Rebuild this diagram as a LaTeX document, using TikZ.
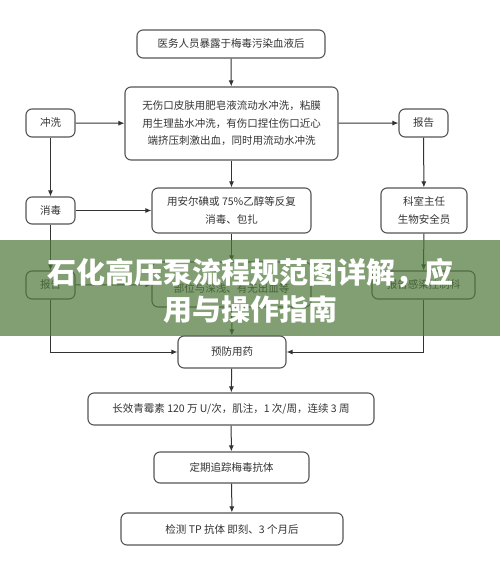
\documentclass[tikz,border=0pt]{standalone}
\usepackage{fontspec}
\newfontfamily\cjk{Noto Sans CJK SC}
\usetikzlibrary{positioning, arrows.meta}
\definecolor{boxline}{RGB}{85,85,85}
\definecolor{txtgray}{RGB}{51,51,51}
\definecolor{bandgreen}{RGB}{76,119,55}

\begin{document}
\begin{tikzpicture}[x=1pt, y=-1pt, >={Latex[length=6pt,width=5pt]},
    box/.style={draw=boxline, line width=1.1pt, rectangle, rounded corners=6pt,
        align=center, text=txtgray, inner sep=2pt,
        font=\cjk\fontsize{10.5}{17.5}\selectfont},
    link/.style={->, line width=1pt, draw=txtgray}]
    \useasboundingbox (0,0) rectangle (500,577);
    \fill[white] (0,0) rectangle (500,577);

    \node[box, minimum width=188pt, minimum height=28pt] (expo) at (231,44) {医务人员暴露于梅毒污染血液后};
    \node[box, minimum width=213pt, minimum height=73pt] (wash) at (231.5,123.5) {无伤口皮肤用肥皂液流动水冲洗，粘膜\\用生理盐水冲洗，有伤口捏住伤口近心\\端挤压刺激出血，同时用流动水冲洗};
    \node[box, minimum width=49pt, minimum height=28pt] (rinse) at (50.5,123) {冲洗};
    \node[box, minimum width=49pt, minimum height=28pt] (report) at (423.5,123) {报告};
    \node[box, minimum width=49pt, minimum height=27pt] (disinf) at (50.5,210.5) {消毒};
    \node[box, minimum width=159pt, minimum height=45pt] (iodine) at (231.5,210.5) {用安尔碘或 75\%乙醇等反复\\消毒、包扎};
    \node[box, minimum width=86pt, minimum height=45pt] (chief) at (424,210.5) {科室主任\\生物安全员};
    \node[box, minimum width=49pt, minimum height=28pt] (notify) at (50.5,285) {报告};
    \node[box, minimum width=159pt, minimum height=45pt] (assess) at (231.5,284.5) {~\\部位与深浅、有无出血等};
    \node[box, minimum width=103pt, minimum height=28pt] (infect) at (423.5,285) {报告感染控制科};
    \node[box, minimum width=108pt, minimum height=32pt] (prevent) at (232,352) {预防用药};
    \node[box, minimum width=286pt, minimum height=32pt] (drug) at (231,409) {长效青霉素 120 万 U/次，肌注，1 次/周，连续 3 周};
    \node[box, minimum width=155pt, minimum height=31pt] (track) at (231.5,467.5) {定期追踪梅毒抗体};
    \node[box, minimum width=222pt, minimum height=32pt] (test) at (232,529) {检测 TP 抗体 即刻、3 个月后};

    \draw[link] (expo) -- (wash);
    \draw[link] (rinse) -- (wash);
    \draw[link] (wash) -- (report);
    \draw[link] (rinse) -- (disinf);
    \draw[link] (wash) -- (iodine);
    \draw[link] (report) -- (chief);
    \draw[link] (disinf) -- (iodine);
    \draw[link] (disinf) -- (notify);
    \draw[link] (iodine) -- (assess);
    \draw[link] (chief) -- (infect);
    \draw[link] (notify) -- (assess);
    \draw[link] (notify) |- (prevent);
    \draw[link] (infect) |- (prevent);
    \draw[link] (assess) -- (prevent);
    \draw[link] (prevent) -- (drug);
    \draw[link] (drug) -- (track);
    \draw[link] (track) -- (test);

    % title band over the chart
    \fill[bandgreen, fill opacity=0.7] (0,240) rectangle (500,336);
    \node[text=white, font=\cjk\bfseries\fontsize{29}{37}\selectfont, align=center] (title) at (250,291) {石化高压泵流程规范图详解，应\\用与操作指南};
\end{tikzpicture}
\end{document}
